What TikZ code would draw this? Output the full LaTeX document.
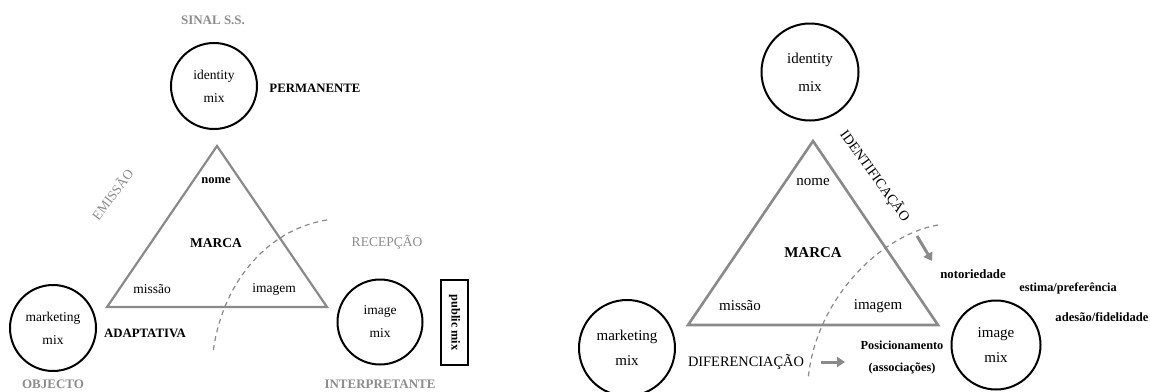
\documentclass[tikz,border=0pt]{standalone}
\usepackage{fontspec}
\setmainfont{Liberation Serif}
\usetikzlibrary{arrows.meta}
\definecolor{softgrey}{HTML}{8C8C8C}
\definecolor{edgegrey}{HTML}{8A8A8A}
\begin{document}
\begin{tikzpicture}[x=1pt,y=-1pt,
  mixcircle/.style={circle,draw=black,line width=2pt,inner sep=0pt,align=center},
  lfont/.style={font=\fontsize{13.5}{23}\selectfont},
  rfont/.style={font=\fontsize{15}{28}\selectfont},
  greylabel/.style={text=softgrey,font=\fontsize{13.5}{16}\selectfont},
  greybold/.style={text=softgrey,font=\bfseries\fontsize{13}{16}\selectfont},
  blacklabel/.style={font=\bfseries\fontsize{12.8}{16}\selectfont},
  smallbold/.style={font=\bfseries\fontsize{12.3}{22}\selectfont},
  brandside/.style={draw=edgegrey,line width=2.2pt,line join=miter},
  cutline/.style={draw=edgegrey,line width=1.2pt,dash pattern=on 5pt off 4pt},
  flowarrow/.style={draw=edgegrey,line width=3pt,-{Triangle[length=8pt,width=10pt]}}
]
\useasboundingbox (0,0) rectangle (1150,391);

% ---------- left scheme ----------
\coordinate (LA) at (217,146);
\coordinate (LB) at (107,307);
\coordinate (LC) at (327,307);
\path[brandside] (LA) -- (LB) -- (LC) -- cycle;

\node[greybold] (sinal) at (213,20) {SINAL S.S.};
\node[mixcircle,lfont,minimum size=86pt] (lid) at (214,86) {identity\\mix};
\node[blacklabel] (perm) at (315,88) {PERMANENTE};

\node[font=\bfseries\fontsize{12.5}{16}\selectfont] (lnome) at (216,181) {nome};
\node[font=\bfseries\fontsize{13.5}{16}\selectfont] (lmarca) at (216,243) {MARCA};
\node[lfont] (lmissao) at (152,289) {missão};
\node[lfont] (limagem) at (274,289) {imagem};

\node[greylabel,rotate=53] (emissao) at (112,194) {EMISSÃO};
\node[greylabel] (recepcao) at (387,242) {RECEPÇÃO};

\coordinate (LcutA) at (327,220);
\coordinate (LcutB) at (213,353);
\path[cutline] (LcutA) .. controls (264,230) and (221,287) .. (LcutB);

\node[mixcircle,lfont,minimum size=86pt] (lmkt) at (53,328) {marketing\\mix};
\node[blacklabel] (adapt) at (145,333) {ADAPTATIVA};
\node[greybold] (objecto) at (53,384) {OBJECTO};

\node[mixcircle,lfont,minimum size=85pt] (limg) at (380,322) {image\\mix};
\node[draw=black,line width=2pt,minimum width=27pt,minimum height=85pt,inner sep=0pt] (public) at (454.5,322.5) {};
\node[rotate=-90,font=\bfseries\fontsize{12.3}{16}\selectfont] (publictxt) at (public.center) {public mix};
\node[greybold] (interp) at (380,384) {INTERPRETANTE};

% ---------- right scheme ----------
\coordinate (RA) at (813,141);
\coordinate (RB) at (688,325);
\coordinate (RC) at (938,325);
\path[brandside,line width=2.6pt] (RA) -- (RB) -- (RC) -- cycle;

\node[mixcircle,rfont,minimum size=97pt] (rid) at (810,72) {identity\\mix};
\node[rfont] (rnome) at (813,182) {nome};
\node[font=\bfseries\fontsize{15}{18}\selectfont] (rmarca) at (813,253) {MARCA};
\node[rfont] (rmissao) at (740,306) {missão};
\node[rfont] (rimagem) at (878,306) {imagem};

\node[font=\fontsize{14}{16}\selectfont,rotate=-54] (ident) at (875,176) {IDENTIFICAÇÃO};

\coordinate (RcutA) at (938,225);
\coordinate (RcutB) at (808,380);
\path[cutline] (RcutA) .. controls (880,235) and (815,300) .. (RcutB);

\coordinate (IdArrS) at (917,236);
\coordinate (IdArrE) at (932,261);
\path[flowarrow] (IdArrS) -- (IdArrE);

\node[font=\bfseries\fontsize{12.8}{16}\selectfont] (noto) at (973,274) {notoriedade};
\node[font=\bfseries\fontsize{12.3}{16}\selectfont] (estima) at (1068,288) {estima/preferência};
\node[font=\bfseries\fontsize{12.6}{16}\selectfont] (adesao) at (1102,317) {adesão/fidelidade};

\node[mixcircle,minimum size=96pt,font=\fontsize{15}{25}\selectfont] (rmkt) at (627,348) {marketing\\mix};
\node[font=\fontsize{14.4}{16}\selectfont] (difer) at (746,362) {DIFERENCIAÇÃO};
\coordinate (DifArrS) at (821,362);
\coordinate (DifArrE) at (845,362);
\path[flowarrow] (DifArrS) -- (DifArrE);

\node[smallbold,align=center] (posic) at (902,358) {Posicionamento\\(associações)};
\node[mixcircle,minimum size=89pt,font=\fontsize{15}{25}\selectfont] (rimg) at (996,345) {image\\mix};
\end{tikzpicture}
\end{document}
